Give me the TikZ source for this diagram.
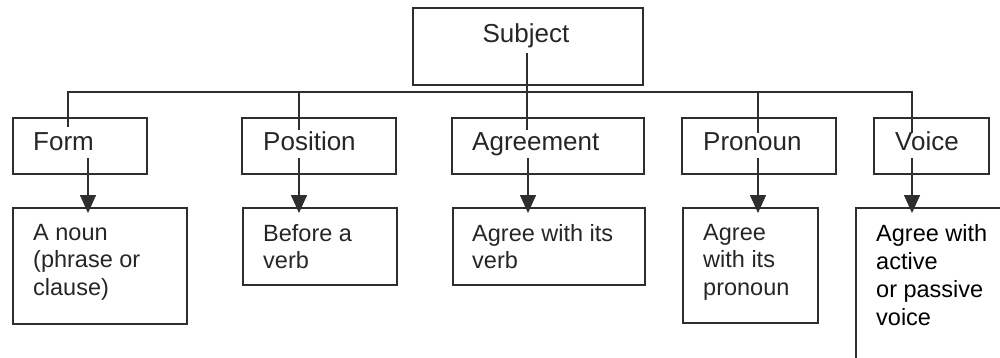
\documentclass[tikz,border=0pt]{standalone}
\usepackage{fontspec}
\setmainfont{Liberation Sans}
\usetikzlibrary{arrows.meta}
\definecolor{lc}{HTML}{2E2E2E}
\definecolor{tc}{HTML}{262626}
\begin{document}
\begin{tikzpicture}[x=1pt,y=-1pt,
  box/.style={draw=lc, line width=1.6pt, anchor=north west, inner sep=0pt},
  ttwo/.style={text=tc, inner sep=0pt, font=\fontsize{26}{30}\selectfont},
  tthree/.style={text=tc, inner sep=0pt, anchor=north west, align=left, font=\fontsize{23.5}{27.5}\selectfont},
  ln/.style={draw=lc, line width=1.6pt},
  arr/.style={draw=lc, line width=1.6pt, -{Triangle[length=18pt,width=16pt]}}]
\useasboundingbox (0,0) rectangle (1000,358);
\clip (0,0) rectangle (1000,358);
% top box
\node[box, minimum width=230pt, minimum height=77pt] (subj) at (412,7) {};
% level 2 boxes
\node[box, minimum width=134pt, minimum height=56pt] (form) at (12,117) {};
\node[box, minimum width=154pt, minimum height=56pt] (pos) at (241,117) {};
\node[box, minimum width=192pt, minimum height=56pt] (agr) at (451,117) {};
\node[box, minimum width=154pt, minimum height=56pt] (pron) at (681,117) {};
\node[box, minimum width=115pt, minimum height=56pt] (voice) at (873,117) {};
% level 3 boxes
\node[box, minimum width=174pt, minimum height=116pt] (formc) at (12,207) {};
\node[box, minimum width=154pt, minimum height=77pt] (posc) at (242,207) {};
\node[box, minimum width=192pt, minimum height=77pt] (agrc) at (452,207) {};
\node[box, minimum width=135pt, minimum height=115pt] (pronc) at (682,207) {};
\node[box, minimum width=170pt, minimum height=180pt] (voicec) at (855,207) {};
% bus and drops
\coordinate (b1) at (68,92);
\coordinate (b5) at (912,92);
\coordinate (d1) at (68,127);
\coordinate (d2t) at (299,92);
\coordinate (d2) at (299,130);
\coordinate (d3t) at (527,53);
\coordinate (d3) at (527,130);
\coordinate (d4t) at (758,92);
\coordinate (d4) at (758,133);
\coordinate (d5) at (912,133);
\draw[ln] (d1) -- (b1) -- (b5) -- (d5);
\draw[ln] (d2t) -- (d2);
\draw[ln] (d3t) -- (d3);
\draw[ln] (d4t) -- (d4);
% arrows
\coordinate (a1) at (88,158);   \coordinate (e1) at (88,213);
\coordinate (a2) at (299,158);  \coordinate (e2) at (299,213);
\coordinate (a3) at (528,158);  \coordinate (e3) at (528,213);
\coordinate (a4) at (758,158);  \coordinate (e4) at (758,213);
\coordinate (a5) at (912,158);  \coordinate (e5) at (912,213);
\draw[arr] (a1) -- (e1);
\draw[arr] (a2) -- (e2);
\draw[arr] (a3) -- (e3);
\draw[arr] (a4) -- (e4);
\draw[arr] (a5) -- (e5);
% texts
\node[ttwo, anchor=base] (subjt) at (526,43) {Subject};
\node[ttwo, anchor=base west] (formt) at (33,151) {Form};
\node[ttwo, anchor=base west] (post) at (263,151) {Position};
\node[ttwo, anchor=base west] (agrt) at (472,151) {Agreement};
\node[ttwo, anchor=base west] (pront) at (703,151) {Pronoun};
\node[ttwo, anchor=base west] (voicet) at (895,151) {Voice};
\node[tthree] (formct) at (33,224) {A noun\\(phrase or\\clause)};
\node[tthree] (posct) at (263,224) {Before a\\verb};
\node[tthree] (agrct) at (472,224) {Agree with its\\verb};
\node[tthree] (pronct) at (703,224) {Agree\\with its\\pronoun};
\node[tthree, text=black, font=\fontsize{23.5}{28}\selectfont] (voicect) at (876,224) {Agree with\\active\\or passive\\voice};
\end{tikzpicture}
\end{document}
